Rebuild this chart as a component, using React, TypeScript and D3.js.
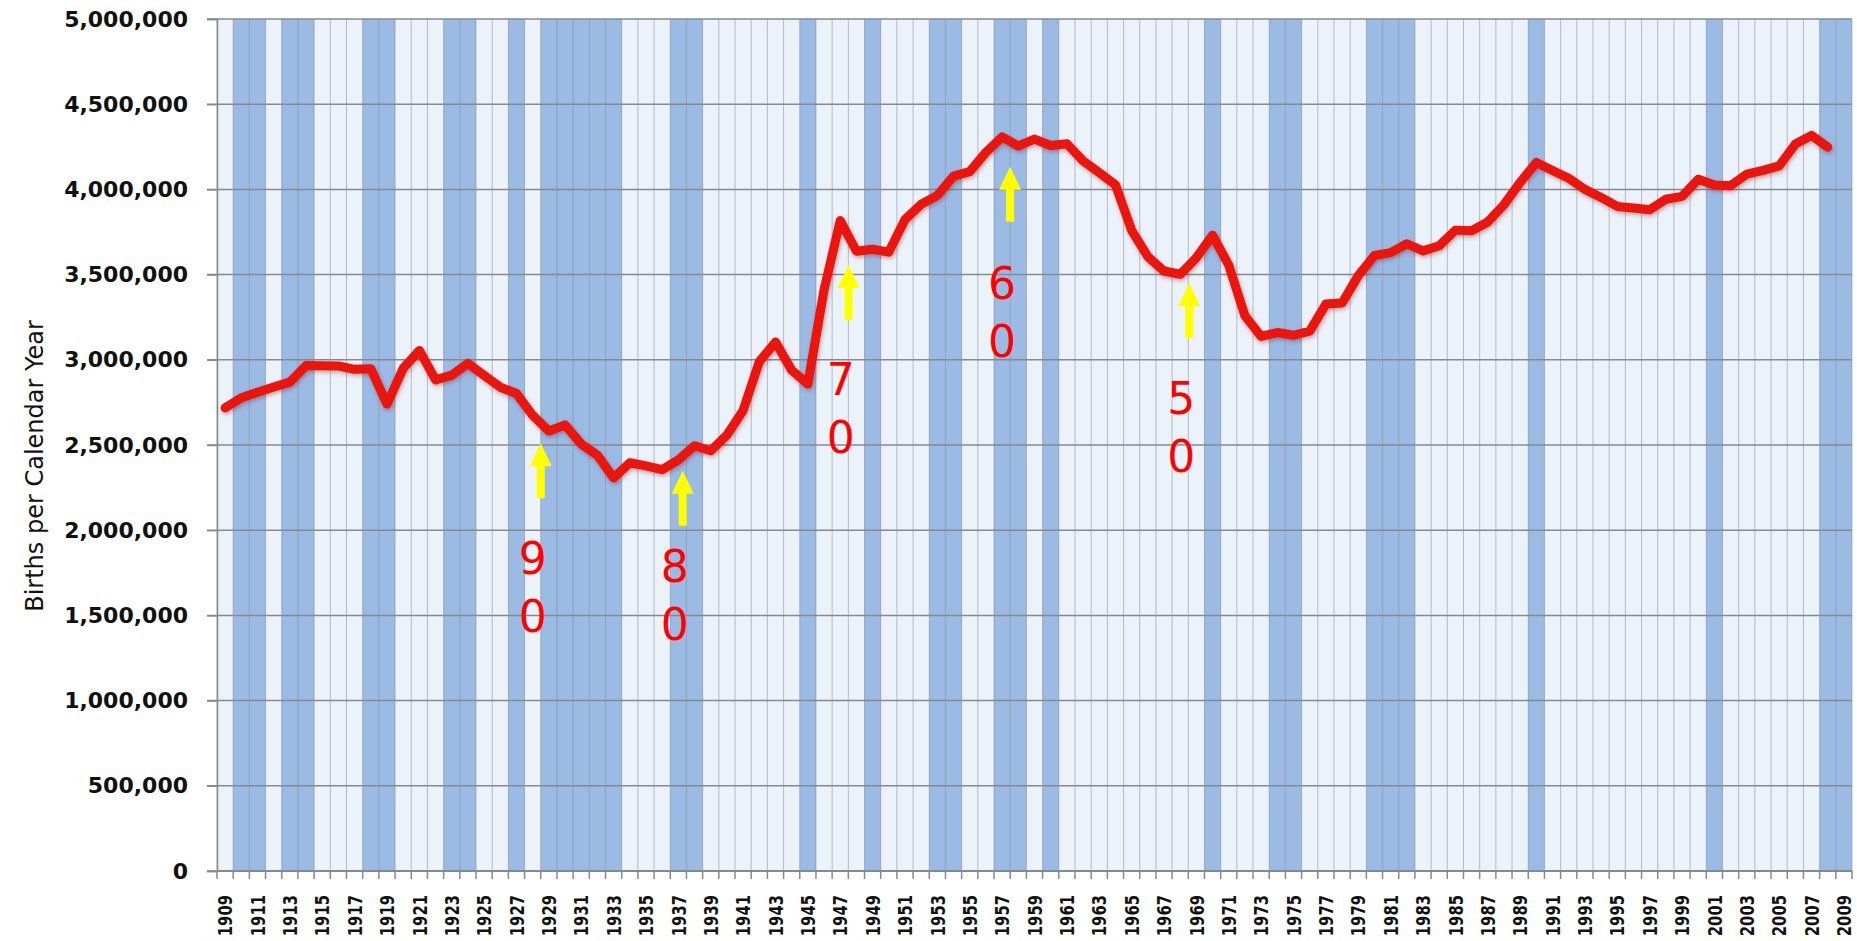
import React, { useEffect, useRef } from 'react';
import * as d3 from 'd3';

// categories: one band per calendar year
const years = d3.range(1909, 2010);
const tickYears = years.filter((d) => (d - 1909) % 2 === 0);

// births per calendar year, 1909..2008
const births = [
  2718000, 2777000, 2809000, 2840000, 2869000, 2966000, 2965000, 2964000, 2944000, 2948000,
  2740000, 2950000, 3055000, 2882000, 2910000, 2979000, 2909000, 2839000, 2802000, 2674000,
  2582000, 2618000, 2506000, 2440000, 2307000, 2396000, 2377000, 2355000, 2413000, 2496000,
  2466000, 2559000, 2703000, 2989000, 3104000, 2939000, 2858000, 3411000, 3817000, 3637000,
  3649000, 3632000, 3823000, 3913000, 3965000, 4078000, 4104000, 4218000, 4308000, 4255000,
  4295000, 4258000, 4268000, 4167000, 4098000, 4027000, 3760000, 3606000, 3521000, 3502000,
  3600000, 3731000, 3556000, 3258000, 3137000, 3160000, 3144000, 3168000, 3327000, 3333000,
  3494000, 3612000, 3629000, 3681000, 3639000, 3669000, 3761000, 3757000, 3809000, 3910000,
  4041000, 4158000, 4111000, 4065000, 4000000, 3953000, 3900000, 3891000, 3881000, 3942000,
  3959000, 4059000, 4026000, 4022000, 4090000, 4112000, 4138000, 4266000, 4317000, 4248000,
];

// shaded (recession) years
const shadedYears = [
  1910, 1911, 1913, 1914, 1918, 1919, 1923, 1924, 1927, 1929, 1930, 1931, 1932, 1933,
  1937, 1938, 1945, 1949, 1953, 1954, 1957, 1958, 1960, 1970, 1974, 1975, 1980, 1981,
  1982, 1990, 2001, 2008, 2009,
];

const yTicks = d3.range(0, 5000001, 500000);

// age annotations: arrow position (in years), arrow tip value, label top value
const ageLabels = ['90', '80', '70', '60', '50'];
const ageYears = [1929.0, 1937.77, 1948.02, 1957.99, 1969.06];
const ageTipValues = [2510000, 2349000, 3556000, 4133000, 3449000];
const ageLabelValues = [1932000, 1884000, 2981000, 3546000, 2871000];

const W = 1857;
const H = 941;
const left = 217;
const right = 1852;
const top = 19;
const bottom = 871;
const font = "'DejaVu Sans', Verdana, sans-serif";

export default function App() {
  const ref = useRef<SVGSVGElement>(null);

  useEffect(() => {
    const svg = d3.select(ref.current);
    svg.selectAll('*').remove();

    const x = d3.scaleBand<number>().domain(years).range([left, right]).padding(0);
    const xLin = d3.scaleLinear().domain([1909, 2010]).range([left, right]);
    const y = d3.scaleLinear().domain([0, 5000000]).range([bottom, top]);

    const defs = svg.append('defs');
    const f = defs
      .append('filter')
      .attr('id', 'glow')
      .attr('x', '-5%')
      .attr('y', '-20%')
      .attr('width', '110%')
      .attr('height', '140%');
    f.append('feDropShadow')
      .attr('dx', 1)
      .attr('dy', 2)
      .attr('stdDeviation', 2)
      .attr('flood-color', '#7a0000')
      .attr('flood-opacity', 0.35);

    // plot background + bands
    svg
      .append('rect')
      .attr('x', left)
      .attr('y', top)
      .attr('width', right - left)
      .attr('height', bottom - top)
      .attr('fill', '#ecf2fa');

    svg
      .append('g')
      .selectAll('rect')
      .data(shadedYears)
      .enter()
      .append('rect')
      .attr('x', (d) => x(d) as number)
      .attr('y', top)
      .attr('width', x.bandwidth())
      .attr('height', bottom - top)
      .attr('fill', '#9cbbe4');

    // vertical gridlines at band boundaries
    const bounds = years.map((d) => x(d) as number).concat([right]);
    svg
      .append('g')
      .selectAll('line')
      .data(bounds)
      .enter()
      .append('line')
      .attr('x1', (d) => d)
      .attr('x2', (d) => d)
      .attr('y1', top)
      .attr('y2', bottom)
      .attr('stroke', '#6f7680')
      .attr('stroke-opacity', 0.45)
      .attr('stroke-width', 1);

    // horizontal gridlines
    svg
      .append('g')
      .selectAll('line')
      .data(yTicks)
      .enter()
      .append('line')
      .attr('x1', left - 10)
      .attr('x2', right)
      .attr('y1', (d) => y(d))
      .attr('y2', (d) => y(d))
      .attr('stroke', '#858a92')
      .attr('stroke-width', 1.5);

    // y axis
    const yAxis = d3
      .axisLeft(y)
      .tickValues(yTicks)
      .tickFormat(d3.format(','))
      .tickSize(10)
      .tickPadding(19);
    const ya = svg.append('g').attr('transform', 'translate(' + left + ',0)').call(yAxis);
    ya.select('.domain').attr('stroke', '#858a92').attr('stroke-width', 1.5);
    ya.selectAll('.tick line').attr('stroke', '#858a92').attr('stroke-width', 1.5);
    ya.selectAll('.tick text')
      .attr('font-family', font)
      .attr('font-weight', 'bold')
      .attr('font-size', 22)
      .attr('fill', '#111');

    // x axis line + ticks between categories
    svg
      .append('line')
      .attr('x1', left)
      .attr('x2', right)
      .attr('y1', bottom)
      .attr('y2', bottom)
      .attr('stroke', '#858a92')
      .attr('stroke-width', 2);
    svg
      .append('g')
      .selectAll('line')
      .data(bounds)
      .enter()
      .append('line')
      .attr('x1', (d) => d)
      .attr('x2', (d) => d)
      .attr('y1', bottom)
      .attr('y2', bottom + 8)
      .attr('stroke', '#858a92')
      .attr('stroke-width', 1.5);

    svg
      .append('g')
      .selectAll('text')
      .data(tickYears)
      .enter()
      .append('text')
      .attr(
        'transform',
        (d) => 'translate(' + ((x(d) as number) + x.bandwidth() / 2) + ',' + 895 + ') rotate(-90) scale(0.74,1)',
      )
      .attr('text-anchor', 'end')
      .attr('dy', '0.36em')
      .attr('font-family', font)
      .attr('font-weight', 'bold')
      .attr('font-size', 20)
      .attr('fill', '#111')
      .text((d) => d);

    // y axis title
    svg
      .append('text')
      .attr('transform', 'translate(35,' + 466 + ') rotate(-90)')
      .attr('text-anchor', 'middle')
      .attr('dominant-baseline', 'central')
      .attr('font-family', font)
      .attr('font-size', 24)
      .attr('fill', '#111')
      .text('Births per Calendar Year');

    // births line
    const line = d3
      .line<number>()
      .x((d, i) => (x(years[i]) as number) + x.bandwidth() / 2)
      .y((d) => y(d));
    svg
      .append('path')
      .datum(births)
      .attr('d', line)
      .attr('fill', 'none')
      .attr('stroke', '#ea120e')
      .attr('stroke-width', 9)
      .attr('stroke-linejoin', 'round')
      .attr('stroke-linecap', 'round')
      .attr('filter', 'url(#glow)');

    // age arrows and labels
    const ann = svg
      .append('g')
      .selectAll('g')
      .data(ageLabels)
      .enter()
      .append('g');
    ann
      .append('path')
      .attr('transform', (d, i) => 'translate(' + xLin(ageYears[i]) + ',' + y(ageTipValues[i]) + ')')
      .attr('d', 'M0,0L11,23L4,23L4,55L-4,55L-4,23L-11,23Z')
      .attr('fill', '#ffff00');
    ann
      .append('text')
      .attr('text-anchor', 'middle')
      .attr('font-family', font)
      .attr('font-size', 44)
      .attr('fill', '#ff0000')
      .each(function (d, i) {
        const t = d3.select(this);
        const cx = xLin(ageYears[i]) - 8;
        const base = y(ageLabelValues[i]) + 32;
        d.split('').forEach((ch, k) => {
          t.append('tspan')
            .attr('x', cx)
            .attr('y', base + k * 58)
            .text(ch);
        });
      });
  }, []);

  return (
    <svg
      ref={ref}
      width={W}
      height={H}
      style={{ position: 'absolute', left: 0, top: 0, background: '#fff', display: 'block' }}
    />
  );
}
